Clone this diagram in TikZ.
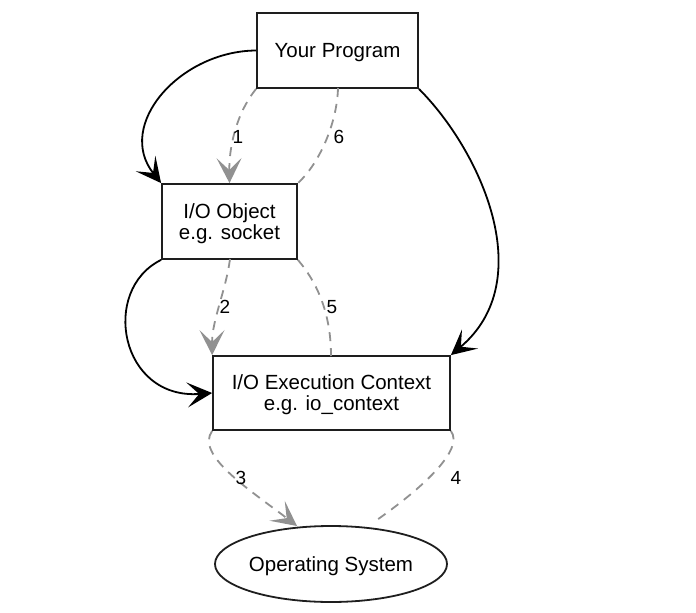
\documentclass[tikz,border=0pt]{standalone}
\usepackage{fontspec}
\setmainfont{Liberation Sans}
\usetikzlibrary{arrows.meta,shapes.geometric}
\definecolor{dgrey}{RGB}{145,145,145}
\definecolor{dline}{RGB}{30,30,30}
\begin{document}
\begin{tikzpicture}[x=1pt,y=-1pt,
  box/.style={draw=dline, line width=1.8pt, fill=white, align=center, inner sep=0pt,
    text depth=0pt, font=\fontsize{20.5}{21}\selectfont},
  oval/.style={ellipse, draw=dline, line width=1.8pt, fill=white, inner sep=0pt,
    text depth=0pt, font=\fontsize{20.5}{21}\selectfont},
  solidarr/.style={draw=black, line width=1.8pt,
    -{Stealth[length=25pt, width=25pt, inset=12pt]}},
  dashline/.style={draw=dgrey, line width=1.8pt, dash pattern=on 9pt off 7pt},
  dasharr/.style={dashline, -{Stealth[length=25pt, width=25pt, inset=12pt, fill=dgrey]}},
  lbl/.style={inner sep=0pt, font=\fontsize{19}{19}\selectfont}
]
\useasboundingbox (0,0) rectangle (696,613);

\node[box, minimum width=161pt, minimum height=75pt] (prog) at (337.5,50.5) {Your Program};
\node[box, minimum width=135pt, minimum height=75pt] (obj) at (229.5,221.5) {I/O Object\\e.g. socket};
\node[box, minimum width=237pt, minimum height=74pt] (exec) at (331.5,393) {I/O Execution Context\\e.g. io\_context};
\node[oval, minimum width=232pt, minimum height=76pt] (os) at (331,564) {Operating System};

% solid connectors
\draw[solidarr] (prog.west) .. controls (180,51) and (115,125) .. (obj.north west);
\draw[solidarr] (prog.south east) .. controls (480,150) and (540,280) .. (exec.north east);
\draw[solidarr] (obj.south west) .. controls (100,290) and (120,400) .. (exec.west);

% dashed connectors
\coordinate (p6) at (338,88);
\coordinate (e5) at (331,356);
\coordinate (o2) at (230,259);
\coordinate (os3) at (297,526);
\coordinate (os4) at (374,522);
\draw[dasharr] (prog.south west) .. controls (235,115) and (229,150) .. (obj.north);
\draw[dashline] (p6) .. controls (337,125) and (318,165) .. (obj.north east);
\draw[dasharr] (o2) .. controls (226,290) and (212,320) .. (exec.north west);
\draw[dashline] (obj.south east) .. controls (315,280) and (331,310) .. (e5);
\draw[dasharr] (exec.south west) .. controls (195,455) and (250,490) .. (os3);
\draw[dashline] (exec.south east) .. controls (465,450) and (420,490) .. (os4);

% labels
\node[lbl] (l1) at (238,137) {1};
\node[lbl] (l6) at (339,137) {6};
\node[lbl] (l2) at (225,307) {2};
\node[lbl] (l5) at (332,307) {5};
\node[lbl] (l3) at (241,478) {3};
\node[lbl] (l4) at (456,478) {4};
\end{tikzpicture}
\end{document}
